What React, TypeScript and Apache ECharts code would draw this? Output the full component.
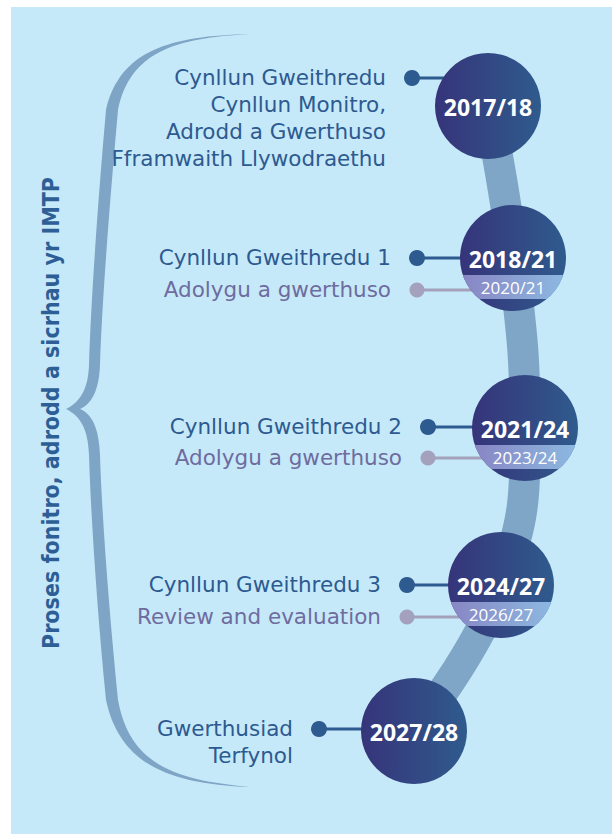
import React, { useEffect, useRef } from 'react';
import * as echarts from 'echarts';

// ---- content ----
const years = ['2017/18', '2018/21', '2021/24', '2024/27', '2027/28'];
const reviewYears = ['', '2020/21', '2023/24', '2026/27', ''];
const planLabels = [
  ['Cynllun Gweithredu', 'Cynllun Monitro,', 'Adrodd a Gwerthuso', 'Fframwaith Llywodraethu'],
  ['Cynllun Gweithredu 1'],
  ['Cynllun Gweithredu 2'],
  ['Cynllun Gweithredu 3'],
  ['Gwerthusiad', 'Terfynol'],
];
const reviewLabels = ['', 'Adolygu a gwerthuso', 'Adolygu a gwerthuso', 'Review and evaluation', ''];
const sideTitle = 'Proses fonitro, adrodd a sicrhau yr IMTP';

// ---- layout (pixel-like coordinates on hidden value axes) ----
const nodeX = [488, 513, 525, 501, 414];
const nodeY = [106, 258, 428, 585, 731];
const planDotX = [412, 417, 428, 407, 319];
const planDotY = [78, 258, 427, 585, 729];
const reviewDotY = [0, 290, 458, 617, 0];

const W = 612;
const H = 834;
const R = 53;
const LINE_H = 27;
const FONT = '"Open Sans", "Noto Sans", sans-serif';
const LABEL_FONT = '"DejaVu Sans", sans-serif';
const LABEL_SIZE = 21.5;
const DARK = '#2e5b8f';
const GREY = '#a3a1bc';
const TEXT_MAIN = '#2d5a90';
const TEXT_REV = '#6e6c9f';

const BRACE =
  'M 250 34 C 170 36 120 50 106 110 C 98 200 91 300 89 365 C 88 390 80 402 66 409 ' +
  'C 80 416 88 428 89 455 C 91 520 98 620 106 700 C 120 765 170 784 250 787 ' +
  'C 175 780 130 765 118 700 C 110 620 102 520 100 455 C 99 428 92 414 80 409 ' +
  'C 92 404 99 390 100 365 C 102 300 110 200 118 110 C 130 52 175 38 250 34 Z';

let registered = false;

export default function App() {
  const ref = useRef<HTMLDivElement>(null);
  useEffect(() => {
    if (!ref.current) return;
    if (!registered) {
      echarts.graphic.registerShape('brace', echarts.graphic.extendPath(BRACE, {}) as any);
      registered = true;
    }
    const chart = echarts.init(ref.current, undefined, { renderer: 'svg' });
    const idx = years.map((_, i) => i);
    const reviewIdx = idx.filter((i) => reviewYears[i]);

    const option: any = {
      animation: false,
      backgroundColor: '#ffffff',
      grid: { left: 0, right: 0, top: 0, bottom: 0 },
      xAxis: { type: 'value', min: 0, max: W, show: false },
      yAxis: { type: 'value', min: 0, max: H, inverse: true, show: false },
      graphic: [
        { type: 'rect', z: -10, shape: { x: 11, y: 7, width: W - 11, height: H - 7 }, style: { fill: '#c6e9f9' } },
        { type: 'brace', z: -5, x: 0, y: 0, style: { fill: '#7ea5c6' } },
        {
          type: 'text',
          z: -5,
          x: 51,
          y: 413,
          rotation: Math.PI / 2,
          style: {
            text: sideTitle,
            align: 'center',
            verticalAlign: 'middle',
            fill: '#2d5e96',
            fontSize: 23,
            fontWeight: 'bold',
            fontFamily: '"DejaVu Sans Condensed", "DejaVu Sans", sans-serif',
          },
        },
      ],
      series: [
        {
          type: 'line',
          z: 1,
          silent: true,
          smooth: 0.45,
          symbol: 'none',
          clip: false,
          lineStyle: { width: 31, color: '#7fa6c6', cap: 'round', opacity: 1 },
          data: idx.map((i) => [nodeX[i], nodeY[i]]),
        },
        {
          type: 'custom',
          z: 2,
          silent: true,
          clip: false,
          data: idx.map((i) => [planDotX[i], planDotY[i], nodeX[i]]),
          renderItem: (params: any, api: any) => {
            const d = api.coord([api.value(0), api.value(1)]);
            const c = api.coord([api.value(2), api.value(1)]);
            return {
              type: 'group',
              children: [
                { type: 'line', shape: { x1: d[0], y1: d[1], x2: c[0], y2: c[1] }, style: { stroke: DARK, lineWidth: 3 } },
                { type: 'circle', shape: { cx: d[0], cy: d[1], r: 8 }, style: { fill: DARK } },
              ],
            };
          },
        },
        {
          type: 'custom',
          z: 2,
          silent: true,
          clip: false,
          data: reviewIdx.map((i) => [planDotX[i], reviewDotY[i], nodeX[i]]),
          renderItem: (params: any, api: any) => {
            const d = api.coord([api.value(0), api.value(1)]);
            const c = api.coord([api.value(2), api.value(1)]);
            return {
              type: 'group',
              children: [
                { type: 'line', shape: { x1: d[0], y1: d[1], x2: c[0], y2: c[1] }, style: { stroke: GREY, lineWidth: 3 } },
                { type: 'circle', shape: { cx: d[0], cy: d[1], r: 7.5 }, style: { fill: GREY } },
              ],
            };
          },
        },
        {
          type: 'scatter',
          z: 3,
          silent: true,
          symbol: 'circle',
          symbolSize: R * 2,
          itemStyle: {
            opacity: 1,
            color: new echarts.graphic.LinearGradient(0, 0, 1, 0, [
              { offset: 0, color: '#36347a' },
              { offset: 1, color: '#2f5b8d' },
            ]),
          },
          label: {
            show: true,
            position: 'inside',
            offset: [0, 1],
            formatter: (p: any) => years[p.dataIndex],
            color: '#ffffff',
            fontSize: 23,
            fontWeight: 'bold',
            fontFamily: FONT,
          },
          data: idx.map((i) => [nodeX[i], nodeY[i]]),
        },
        {
          type: 'custom',
          z: 4,
          silent: true,
          clip: false,
          data: reviewIdx.map((i) => [nodeX[i], nodeY[i], i]),
          renderItem: (params: any, api: any) => {
            const c = api.coord([api.value(0), api.value(1)]);
            const i = api.value(2);
            const cx = c[0];
            const cy = c[1];
            const top = cy + 17;
            const bot = cy + 41;
            const pts: number[][] = [];
            const N = 10;
            for (let k = 0; k <= N; k++) {
              const y = top + ((bot - top) * k) / N;
              pts.push([cx - Math.sqrt(R * R - (y - cy) * (y - cy)), y]);
            }
            for (let k = N; k >= 0; k--) {
              const y = top + ((bot - top) * k) / N;
              pts.push([cx + Math.sqrt(R * R - (y - cy) * (y - cy)), y]);
            }
            return {
              type: 'group',
              children: [
                {
                  type: 'polygon',
                  shape: { points: pts },
                  style: {
                    fill: new echarts.graphic.LinearGradient(0, 0, 1, 0, [
                      { offset: 0, color: '#8886c4' },
                      { offset: 1, color: '#8cb8e0' },
                    ]),
                  },
                },
                {
                  type: 'text',
                  style: {
                    text: reviewYears[i],
                    x: cx,
                    y: cy + 29,
                    align: 'center',
                    verticalAlign: 'middle',
                    fill: '#ffffff',
                    fontSize: 17,
                    fontFamily: FONT,
                  },
                },
              ],
            };
          },
        },
        {
          type: 'custom',
          z: 5,
          silent: true,
          clip: false,
          data: idx.map((i) => [planDotX[i], planDotY[i], i]),
          renderItem: (params: any, api: any) => {
            const d = api.coord([api.value(0), api.value(1)]);
            const i = api.value(2);
            const lines = planLabels[i];
            const children: any[] = [
              {
                type: 'text',
                style: {
                  text: lines.join('\n'),
                  x: d[0] - 26,
                  y: d[1] - 1 + ((lines.length - 1) * LINE_H) / 2,
                  align: 'right',
                  verticalAlign: 'middle',
                  lineHeight: LINE_H,
                  fill: TEXT_MAIN,
                  fontSize: LABEL_SIZE,
                  fontFamily: LABEL_FONT,
                },
              },
            ];
            if (reviewLabels[i]) {
              const rd = api.coord([api.value(0), reviewDotY[i]]);
              children.push({
                type: 'text',
                style: {
                  text: reviewLabels[i],
                  x: rd[0] - 26,
                  y: rd[1] - 1,
                  align: 'right',
                  verticalAlign: 'middle',
                  fill: TEXT_REV,
                  fontSize: LABEL_SIZE,
                  fontFamily: LABEL_FONT,
                },
              });
            }
            return { type: 'group', children };
          },
        },
      ],
    };
    chart.setOption(option);
    return () => chart.dispose();
  }, []);
  return <div ref={ref} style={{ position: 'fixed', left: 0, top: 0, width: W, height: H }} />;
}
